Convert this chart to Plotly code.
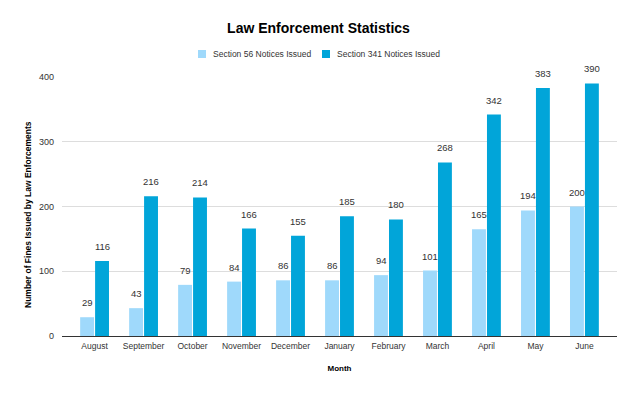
import plotly.graph_objects as go

months = ["August", "September", "October", "November", "December", "January",
          "February", "March", "April", "May", "June"]
section56 = [29, 43, 79, 84, 86, 86, 94, 101, 165, 194, 200]
section341 = [116, 216, 214, 166, 155, 185, 180, 268, 342, 383, 390]
names = ["Section 56 Notices Issued", "Section 341 Notices Issued"]
colors = ["#9fd9fb", "#01a5d9"]

font_family = "Liberation Sans, Arial, sans-serif"
BARGAP = 0.39
slot = (1 - BARGAP) / 2
offsets = [-slot / 2, slot / 2]

fig = go.Figure()
xs = list(range(len(months)))
for name, vals, col, off in zip(names, [section56, section341], colors, offsets):
    fig.add_trace(go.Bar(
        name=name, x=xs, y=vals,
        marker=dict(color=col, line=dict(width=0)),
        showlegend=False,
    ))
    for xi, v in zip(xs, vals):
        fig.add_annotation(x=xi + off, y=v, text=str(v), showarrow=False,
                           xanchor="center", yanchor="bottom", yshift=7,
                           font=dict(size=9.5, color="#333333"))

# pixel helpers for paper-positioned text
PL, PW, PT, PH = 62, 555, 77, 259
def px_to_paper_x(px):
    return (px - PL) / PW
def px_to_paper_y(py):
    return (PT + PH - py) / PH

# custom compact legend
legend_cy = 54
legend_x = [198, 322]
for lx, name, col in zip(legend_x, names, colors):
    fig.add_shape(type="rect", xref="paper", yref="paper",
                  x0=px_to_paper_x(lx), x1=px_to_paper_x(lx + 8),
                  y0=px_to_paper_y(legend_cy + 4), y1=px_to_paper_y(legend_cy - 4),
                  fillcolor=col, line=dict(width=0))
    fig.add_annotation(xref="paper", yref="paper",
                       x=px_to_paper_x(lx + 13), y=px_to_paper_y(legend_cy),
                       xanchor="left", yanchor="middle", showarrow=False,
                       text=name, font=dict(size=8.5, color="#333333"))

# y-axis title
fig.add_annotation(xref="paper", yref="paper",
                   x=px_to_paper_x(28), y=px_to_paper_y(215),
                   xanchor="center", yanchor="middle", showarrow=False, textangle=-90,
                   text="<b>Number of Fines Issued by Law Enforcements</b>",
                   font=dict(size=8.5, color="#000000"))

fig.update_layout(
    width=637, height=393,
    margin=dict(l=PL, r=637 - PL - PW, t=PT, b=393 - PT - PH, autoexpand=False),
    paper_bgcolor="white", plot_bgcolor="white",
    font=dict(family=font_family, color="#333333", size=9),
    title=dict(text="<b>Law Enforcement Statistics</b>", x=0.5, xanchor="center",
               y=1 - 28 / 393, yanchor="middle",
               font=dict(size=14, color="#000000", family=font_family)),
    barmode="group", bargap=BARGAP, bargroupgap=0.07,
)
fig.update_xaxes(
    title=dict(text="<b>Month</b>", font=dict(size=8, color="#000000"), standoff=15),
    tickmode="array", tickvals=xs, ticktext=months,
    range=[-0.665, len(months) - 1 + 0.665],
    tickfont=dict(size=8.5, color="#333333"),
    showline=True, linecolor="#333333", linewidth=1, ticks="",
    showgrid=False, zeroline=False, ticklabelstandoff=2,
)
fig.update_yaxes(
    range=[0, 400], tickvals=[0, 100, 200, 300, 400],
    tickfont=dict(size=9, color="#333333"),
    showgrid=True, gridcolor="#dddddd", gridwidth=1,
    zeroline=True, zerolinecolor="#333333", zerolinewidth=1,
    ticks="", ticklabelstandoff=7,
)

fig.write_html("out.html")
